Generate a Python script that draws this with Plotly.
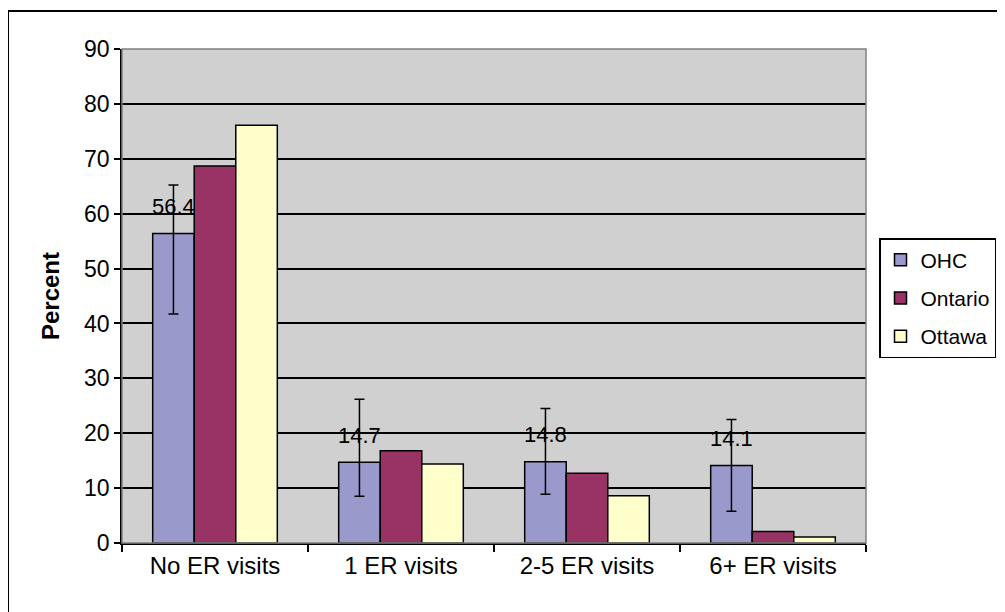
import plotly.graph_objects as go

categories = ["No ER visits", "1 ER visits", "2-5 ER visits", "6+ ER visits"]
ohc = [56.4, 14.7, 14.8, 14.1]
ohc_upper = [65.2, 26.2, 24.5, 22.5]
ohc_lower = [41.7, 8.5, 8.9, 5.8]
ontario = [68.7, 16.8, 12.7, 2.1]
ottawa = [76.1, 14.4, 8.6, 1.1]
y_ticks = [0, 10, 20, 30, 40, 50, 60, 70, 80, 90]

OFF = 8  # page body margin
W, H = 1005 - OFF, 612 - OFF
L, T = 122 - OFF, 49 - OFF
R = W - (866 - OFF)
B = H - (543 - OFF)
PW, PH = W - L - R, H - T - B

def px(x):
    return (x - OFF - L) / PW

def py(y):
    return 1 - (y - OFF - T) / PH

FONT = "Liberation Sans, Arial, sans-serif"
line = dict(color="black", width=1.5)

fig = go.Figure()
fig.add_trace(go.Bar(
    name="OHC", x=categories, y=ohc, marker=dict(color="#9999CC", line=line),
    error_y=dict(type="data", symmetric=False,
                 array=[u - v for u, v in zip(ohc_upper, ohc)],
                 arrayminus=[v - l for v, l in zip(ohc, ohc_lower)],
                 color="black", thickness=1.5, width=5),
    legendgroup="a"))
fig.add_trace(go.Bar(name="Ontario", x=categories, y=ontario,
                     marker=dict(color="#993366", line=line), legendgroup="b"))
fig.add_trace(go.Bar(name="Ottawa", x=categories, y=ottawa,
                     marker=dict(color="#FFFFCC", line=line), legendgroup="c"))

for c, v in zip(categories, ohc):
    fig.add_annotation(x=c, y=v, text=f"{v}", showarrow=False, xshift=-42, yshift=27,
                       font=dict(family=FONT, size=22, color="black"))

# plot area border (gray) and outer chart border
fig.add_shape(type="rect", xref="paper", yref="paper", x0=0, y0=0, x1=1, y1=1,
              line=dict(color="#808080", width=1.5), layer="above")
fig.add_shape(type="rect", xref="paper", yref="paper",
              x0=px(8), y0=py(660), x1=px(1040), y1=py(11),
              line=dict(color="black", width=2))

fig.update_layout(
    width=W, height=H,
    margin=dict(l=L, r=R, t=T, b=B, autoexpand=False),
    paper_bgcolor="white", plot_bgcolor="#D0D0D0",
    barmode="group", bargap=0.33, bargroupgap=0,
    font=dict(family=FONT, size=22, color="black"),
    showlegend=True,
    legend=dict(x=px(879), y=py(238), xanchor="left", yanchor="top",
                bordercolor="black", borderwidth=1.5, bgcolor="white",
                font=dict(family=FONT, size=21), tracegroupgap=8,
                traceorder="grouped", itemwidth=30),
    xaxis=dict(showgrid=False, showline=True, linecolor="black", linewidth=1.5,
               ticks="outside", ticklen=7, tickwidth=1.5, tickcolor="black",
               tickson="boundaries", tickfont=dict(size=24)),
    yaxis=dict(range=[0, 90], tickvals=y_ticks, showgrid=True, gridcolor="black",
               gridwidth=1.5, showline=True, linecolor="black", linewidth=1.5,
               ticks="outside", ticklen=6, tickwidth=1.5, tickcolor="black",
               zeroline=False, tickfont=dict(size=23),
               title=dict(text="<b>Percent</b>", font=dict(size=24), standoff=18)),
)

fig.write_html("out.html")
